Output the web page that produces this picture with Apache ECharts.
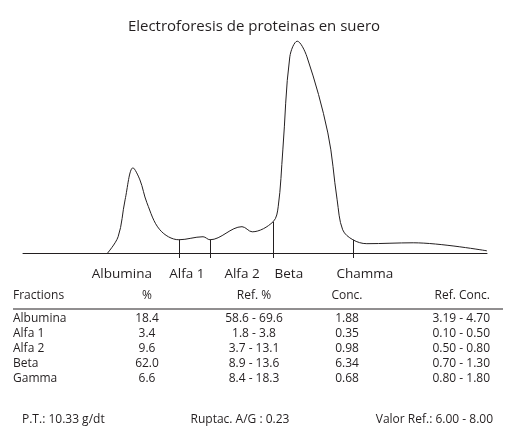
<!DOCTYPE html>
<html lang="es">
<head>
    <meta charset="UTF-8">
    <title>Electroforesis de proteinas en suero</title>
    <script src="https://cdn.jsdelivr.net/npm/echarts@6/dist/echarts.min.js"></script>
    <style>
        html, body { margin: 0; padding: 0; background: #fff; }
    </style>
</head>
<body>
<div id="chart" style="width: 518px;height: 441px;"></div>
<script>
    // trazado del densitograma (movilidad, densidad)
    var curveX = [18.1, 20.5, 22.0, 23.7, 25.2, 26.7, 29.5, 33.6, 38.8, 40.3, 47.2, 49.4, 53.9, 55.0, 56.0, 57.5, 59.1, 61.2, 65.7, 67.7, 68.9, 71.1, 74.1, 84.1, 100];
    var curveY = [0, 7.6, 24.1, 38.4, 33, 22.8, 10.7, 6.25, 7.6, 6.25, 12.1, 9.8, 14.3, 21, 46.4, 88, 95, 88, 54, 24.1, 10.7, 6.25, 4.5, 4.9, 1.3];

    // cortes entre fracciones
    var cutX = [33.6, 40.3, 53.9, 71.1];
    var cutY = [6.25, 6.25, 14.3, 6.25];

    // etiquetas del eje
    var bandNames = ['Albumina', 'Alfa 1', 'Alfa 2', 'Beta', 'Chamma'];
    var bandPos = [21.3, 35.3, 47.2, 57.3, 73.7];

    // tabla
    var headers = ['Fractions', '%', 'Ref. %', 'Conc.', 'Ref. Conc.'];
    var fractions = ['Albumina', 'Alfa 1', 'Alfa 2', 'Beta', 'Gamma'];
    var percent = ['18.4', '3.4', '9.6', '62.0', '6.6'];
    var refPercent = ['58.6 - 69.6', '1.8 - 3.8', '3.7 - 13.1', '8.9 - 13.6', '8.4 - 18.3'];
    var conc = ['1.88', '0.35', '0.98', '6.34', '0.68'];
    var refConc = ['3.19 - 4.70', '0.10 - 0.50', '0.50 - 0.80', '0.70 - 1.30', '0.80 - 1.80'];
    var footer = ['P.T.: 10.33 g/dt', 'Ruptac. A/G : 0.23', 'Valor Ref.: 6.00 - 8.00'];

    var FONT = '"Open Sans", sans-serif';
    var INK = '#231f20';

    var points = curveX.map(function (x, i) { return [x, curveY[i]]; });
    var cuts = cutX.map(function (x, i) {
        return [{coord: [x, cutY[i]]}, {coord: [x, -1.9]}];
    });

    // columnas: x, alineacion
    var cols = [[13, 'left'], [147, 'center'], [254, 'center'], [347, 'center'], [490, 'right']];
    var rows = [fractions, percent, refPercent, conc, refConc];

    function txt(text, x, y, align, size) {
        return {
            type: 'text', x: x, y: y, silent: true,
            style: {
                text: text, align: align, verticalAlign: 'middle',
                fontSize: size || 12, fontFamily: FONT, fill: INK
            }
        };
    }

    var graphics = [];
    headers.forEach(function (h, c) {
        graphics.push(txt(h, cols[c][0], 296, cols[c][1]));
    });
    graphics.push({
        type: 'line', silent: true,
        shape: {x1: 13, y1: 309, x2: 503, y2: 309},
        style: {stroke: INK, lineWidth: 1}
    });
    fractions.forEach(function (f, r) {
        rows.forEach(function (col, c) {
            graphics.push(txt(col[r], cols[c][0], 319 + r * 15, cols[c][1]));
        });
    });
    graphics.push(txt(footer[0], 22, 420, 'left'));
    graphics.push(txt(footer[1], 240, 420, 'center'));
    graphics.push(txt(footer[2], 493, 420, 'right'));

    var myChart = echarts.init(document.getElementById('chart'));
    var option = {
        animation: false,
        title: {
            text: 'Electroforesis de proteinas en suero',
            left: 249,
            top: 14,
            textAlign: 'center',
            textStyle: {
                color: INK,
                fontWeight: 'normal',
                fontFamily: FONT,
                fontSize: 15
            }
        },
        grid: {left: 23, right: 31, top: 30, bottom: 183},
        xAxis: {
            type: 'value',
            min: 0,
            max: 100,
            splitLine: {show: false},
            axisTick: {show: false},
            axisLine: {onZero: true, lineStyle: {color: INK, width: 1}},
            axisLabel: {
                customValues: bandPos,
                margin: 9,
                color: INK,
                fontSize: 13.5,
                fontFamily: FONT,
                formatter: function (v) {
                    var i = bandPos.indexOf(v);
                    return i >= 0 ? bandNames[i] : '';
                }
            }
        },
        yAxis: {
            type: 'value',
            min: -1.9,
            max: 100,
            show: false
        },
        series: [{
            type: 'line',
            data: points,
            smooth: 0.35,
            symbol: 'none',
            lineStyle: {color: INK, width: 1},
            markLine: {
                silent: true,
                symbol: 'none',
                label: {show: false},
                lineStyle: {color: INK, width: 1, type: 'solid'},
                data: cuts
            }
        }],
        graphic: graphics
    };
    myChart.setOption(option);
</script>
</body>
</html>
